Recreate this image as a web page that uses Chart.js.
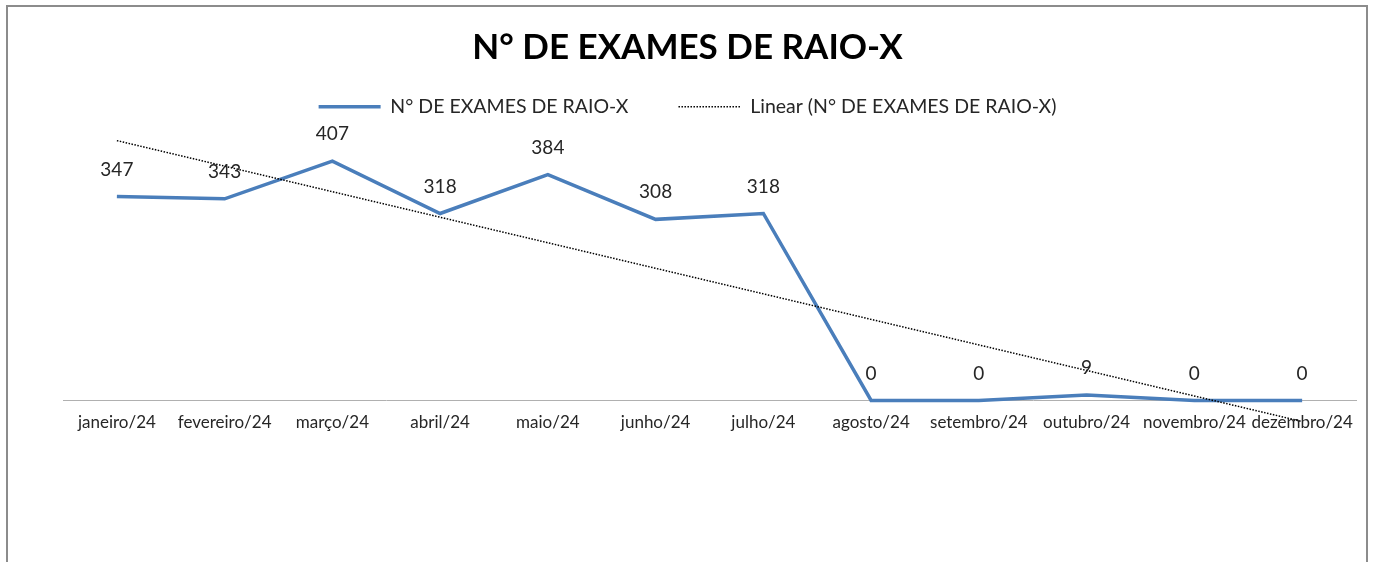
<!DOCTYPE html>
<html>
<head>
<meta charset="utf-8">
<script src="https://cdn.jsdelivr.net/npm/chart.js@4.4.1/dist/chart.umd.min.js"></script>
<style>
  html, body { margin: 0; padding: 0; background: #fff; overflow: hidden; }
  #frame { position: absolute; left: 6px; top: 5px; width: 1362px; height: 700px; border: 2px solid #8c8c8c; box-sizing: border-box; }
  #wrap { position: absolute; left: 0; top: 0; width: 1375px; height: 562px; }
</style>
</head>
<body>
<div id="frame"></div>
<div id="wrap"><canvas id="c"></canvas></div>
<script>
const TITLE = 'N° DE EXAMES DE RAIO-X';
const categories = ['janeiro/24','fevereiro/24','março/24','abril/24','maio/24','junho/24','julho/24','agosto/24','setembro/24','outubro/24','novembro/24','dezembro/24'];
const exames = [347, 343, 407, 318, 384, 308, 318, 0, 0, 9, 0, 0];
// trendline end values (first and last month)
const trendEnds = [442, -36];
const trend = categories.map((c, i) => i === 0 ? trendEnds[0] : (i === categories.length - 1 ? trendEnds[1] : null));

const labelPlugin = {
  id: 'valueLabels',
  afterDatasetsDraw(chart) {
    const meta = chart.getDatasetMeta(0);
    const ctx = chart.ctx;
    ctx.save();
    ctx.font = '19px Lato';
    ctx.fillStyle = '#262626';
    ctx.textAlign = 'center';
    ctx.textBaseline = 'middle';
    meta.data.forEach((pt, i) => {
      ctx.fillText(String(exames[i]), pt.x, pt.y - 27);
    });
    ctx.restore();
  }
};

new Chart(document.getElementById('c'), {
  type: 'line',
  data: {
    labels: categories,
    datasets: [
      {
        label: 'N° DE EXAMES DE RAIO-X',
        data: exames,
        borderColor: '#4A7EBB',
        backgroundColor: '#4A7EBB',
        borderWidth: 3.5,
        pointRadius: 0,
        pointStyle: 'line',
        tension: 0,
        order: 1
      },
      {
        label: 'Linear (N° DE EXAMES DE RAIO-X)',
        data: trend,
        spanGaps: true,
        borderColor: '#000000',
        backgroundColor: '#000000',
        borderWidth: 1.5,
        borderDash: [1.5, 1.5],
        pointRadius: 0,
        pointStyle: 'line',
        order: 0
      }
    ]
  },
  options: {
    responsive: true,
    maintainAspectRatio: false,
    animation: false,
    layout: { padding: { left: 19, right: 19, top: 0, bottom: 0 } },
    plugins: {
      title: {
        display: true,
        text: TITLE,
        color: '#000',
        font: { family: 'Lato', size: 35, weight: 'bold', lineHeight: 1.2 },
        padding: { top: 27, bottom: -22 }
      },
      legend: {
        display: true,
        labels: {
          usePointStyle: true,
          pointStyleWidth: 62,
          padding: 50,
          color: '#262626',
          font: { family: 'Lato', size: 19.5 },
          sort: (a, b) => a.datasetIndex - b.datasetIndex,
          generateLabels(chart) {
            const items = Chart.defaults.plugins.legend.labels.generateLabels(chart);
            items.forEach(it => {
              const ds = chart.data.datasets[it.datasetIndex];
              it.lineWidth = ds.borderWidth;
              it.lineDash = ds.borderDash || [];
              it.strokeStyle = ds.borderColor;
              it.fillStyle = ds.borderColor;
              it.pointStyle = 'line';
            });
            return items;
          }
        }
      },
      tooltip: { enabled: false }
    },
    scales: {
      x: {
        position: { y: 0 },
        offset: true,
        grid: { display: false, drawTicks: false },
        border: { display: true, color: '#b0b0b0', width: 1 },
        ticks: { color: '#262626', font: { family: 'Lato', size: 17 }, padding: 12, maxRotation: 0, autoSkip: false },
        afterFit(scale) { scale.height = 0; }
      },
      y: {
        display: true,
        min: -275,
        max: 466,
        grid: { display: false },
        border: { display: false },
        ticks: { display: false },
        afterFit(scale) { scale.width = 44; }
      }
    }
  },
  plugins: [labelPlugin]
});
</script>
</body>
</html>
